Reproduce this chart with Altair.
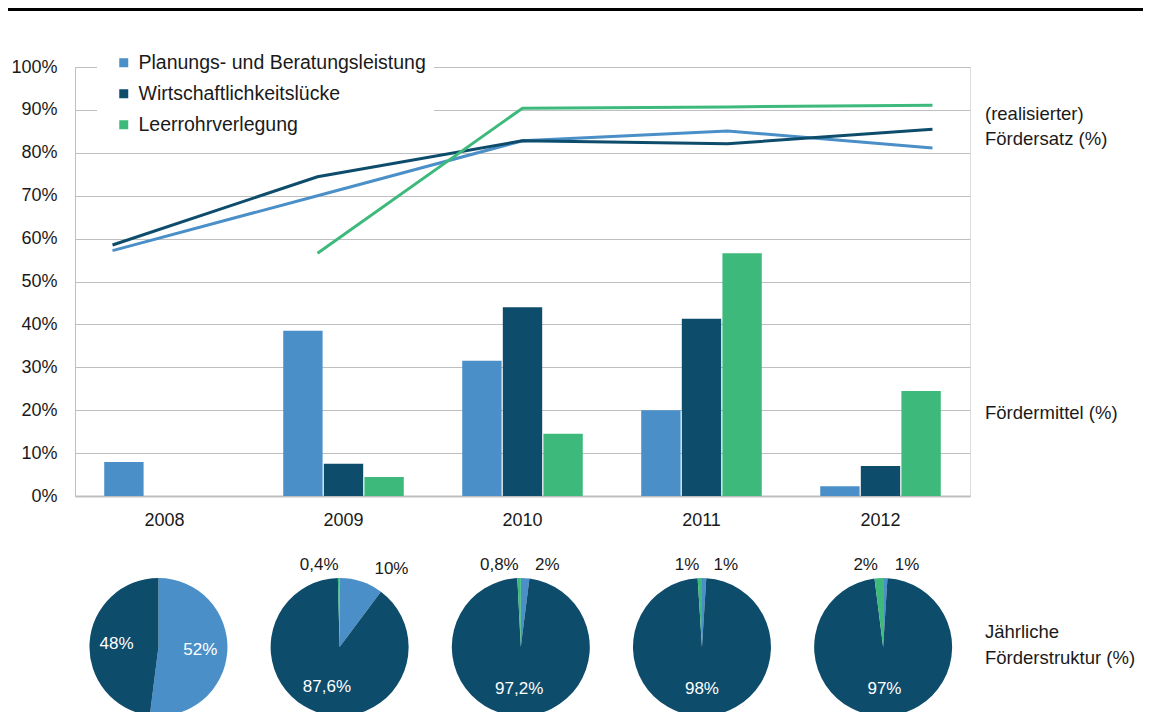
import math
import altair as alt
import pandas as pd

FONT = "Liberation Sans"

years = ["2008", "2009", "2010", "2011", "2012"]
series = ["Planungs- und Beratungsleistung", "Wirtschaftlichkeitslücke", "Leerrohrverlegung"]
colors = ["#4A8FC7", "#0E4C6C", "#3DBA7B"]

# Fördermittel (%) - bars
mittel_planung = [7.9, 38.5, 31.5, 20.0, 2.3]
mittel_wirtschaft = [0.0, 7.5, 44.0, 41.3, 7.0]
mittel_leerrohr = [0.0, 4.4, 14.5, 56.6, 24.5]

# (realisierter) Fördersatz (%) - lines
satz_planung = [57.2, 70.0, 82.8, 85.1, 81.1]
satz_wirtschaft = [58.5, 74.4, 82.8, 82.1, 85.5]
satz_leerrohr = [None, 56.6, 90.4, 90.7, 91.1]

# Jährliche Förderstruktur (%) - pies
struktur_planung = [52, 10, 2, 1, 1]
struktur_wirtschaft = [48, 87.6, 97.2, 98, 97]
struktur_leerrohr = [0, 0.4, 0.8, 1, 2]

# ---- tables ----
bar_rows, line_rows, pie_rows = [], [], []
for s, mv, sv in zip(series,
                     [mittel_planung, mittel_wirtschaft, mittel_leerrohr],
                     [satz_planung, satz_wirtschaft, satz_leerrohr]):
    for i, y in enumerate(years):
        if mv[i] > 0:
            bar_rows.append({"year": y, "series": s, "value": mv[i]})
        if sv[i] is not None:
            line_rows.append({"year": y, "series": s, "value": sv[i]})
bars_df = pd.DataFrame(bar_rows)
lines_df = pd.DataFrame(line_rows)

for i, y in enumerate(years):
    vals = [struktur_planung[i], struktur_wirtschaft[i], struktur_leerrohr[i]]
    tot = sum(vals)
    cum = 0.0
    for s, v in zip(series, vals):
        start = cum / tot
        cum += v
        end = cum / tot
        lab = (f"{v:g}".replace(".", ",") + "%")
        pie_rows.append({"year": y, "series": s, "value": v, "start": start,
                         "end": end, "mid": (start + end) / 2, "label": lab})
pie_df = pd.DataFrame(pie_rows)
pie_df = pie_df[pie_df["value"] > 0]

color_scale = alt.Scale(domain=series, range=colors)
theta_scale = alt.Scale(domain=[0, 1], range=[0, 2 * math.pi])
x_axis = alt.Axis(title=None, labelAngle=0, ticks=False, labelFontSize=18,
                  labelPadding=15, domainColor="#BFBFBF", domainWidth=2,
                  labelColor="#1a1a1a", grid=False)
y_axis = alt.Axis(title=None, values=list(range(0, 101, 10)),
                  labelExpr="datum.value + '%'", ticks=False, labelFontSize=18,
                  labelPadding=18, domainColor="#BFBFBF", gridColor="#BFBFBF",
                  labelColor="#1a1a1a")
y_scale = alt.Scale(domain=[0, 100], nice=False)

X = alt.X("year:N", sort=years,
          scale=alt.Scale(domain=years, paddingInner=0, paddingOuter=0), axis=x_axis)
X_line = alt.X("year:N", sort=years,
               scale=alt.Scale(type="point", domain=years, padding=0.183), axis=None)
X_pie = alt.X("year:N", sort=years,
              scale=alt.Scale(type="point", domain=years, padding=0.47, align=0.49),
              axis=None)
Y = alt.Y("value:Q", scale=y_scale, axis=y_axis)

bars = alt.Chart(bars_df).mark_bar().encode(
    x=X,
    xOffset=alt.XOffset("series:N", sort=series,
                        scale=alt.Scale(domain=series, paddingInner=0.03, paddingOuter=0.72)),
    y=Y,
    color=alt.Color("series:N", scale=color_scale,
                    legend=alt.Legend(title=None, orient="none", legendX=22, legendY=-22,
                                      fillColor="white", padding=8, symbolType="square",
                                      symbolSize=81, symbolStrokeWidth=0, symbolOffset=9,
                                      labelFontSize=19.5, labelFont=FONT, labelColor="#1a1a1a",
                                      rowPadding=10, labelOffset=5, labelLimit=400)),
)

lines = alt.Chart(lines_df).mark_line(strokeWidth=3).encode(
    x=X_line, y=Y,
    color=alt.Color("series:N", scale=color_scale, legend=None),
)

PIE_Y = 580
pies = alt.Chart(pie_df).mark_arc(outerRadius=69).encode(
    x=X_pie, y=alt.value(PIE_Y),
    theta=alt.Theta("start:Q", scale=theta_scale),
    theta2="end:Q",
    color=alt.Color("series:N", scale=color_scale, legend=None),
)

inner = alt.Chart(pie_df).transform_filter("datum.value >= 40").mark_text(
    radius=42, fontSize=17, color="white", font=FONT).encode(
    x=X_pie, y=alt.value(PIE_Y),
    theta=alt.Theta("mid:Q", scale=theta_scale), text="label:N")

outer_b = alt.Chart(pie_df).transform_filter(
    f"datum.value < 40 && datum.series == '{series[0]}'").mark_text(
    radius=82, fontSize=17, color="#1a1a1a", font=FONT, align="left", dx=9).encode(
    x=X_pie, y=alt.value(PIE_Y),
    theta=alt.Theta("mid:Q", scale=theta_scale), text="label:N")

outer_g = alt.Chart(pie_df).transform_filter(
    f"datum.value < 40 && datum.series == '{series[2]}'").mark_text(
    radius=82, fontSize=17, color="#1a1a1a", font=FONT, align="right").encode(
    x=X_pie, y=alt.value(PIE_Y),
    theta=alt.Theta("mid:Q", scale=theta_scale), text="label:N")

one = pd.DataFrame({"a": [0]})


def note(txt, ybase):
    return alt.Chart(one).mark_text(align="left", baseline="alphabetic", fontSize=18.5,
                                    font=FONT, color="#1a1a1a").encode(
        x=alt.value(910), y=alt.value(ybase), text=alt.value(txt))


notes = [note("(realisierter)", 53), note("Fördersatz (%)", 78),
         note("Fördermittel (%)", 352), note("Jährliche", 571),
         note("Förderstruktur (%)", 597)]

topline = alt.Chart(one).mark_rule(color="black", strokeWidth=3).encode(
    x=alt.value(-67), x2=alt.value(1068), y=alt.value(-57.5))

chart = alt.layer(bars, lines, pies, inner, outer_b, outer_g, topline, *notes).resolve_scale(
    x="independent"
).properties(
    width=895, height=429,
    padding={"left": 67, "top": 59, "right": 173, "bottom": 216},
    autosize=alt.AutoSizeParams(type="none"),
).configure_view(stroke=None).configure(font=FONT)

chart.save("out.html", embed_options={"renderer": "svg", "actions": False})
